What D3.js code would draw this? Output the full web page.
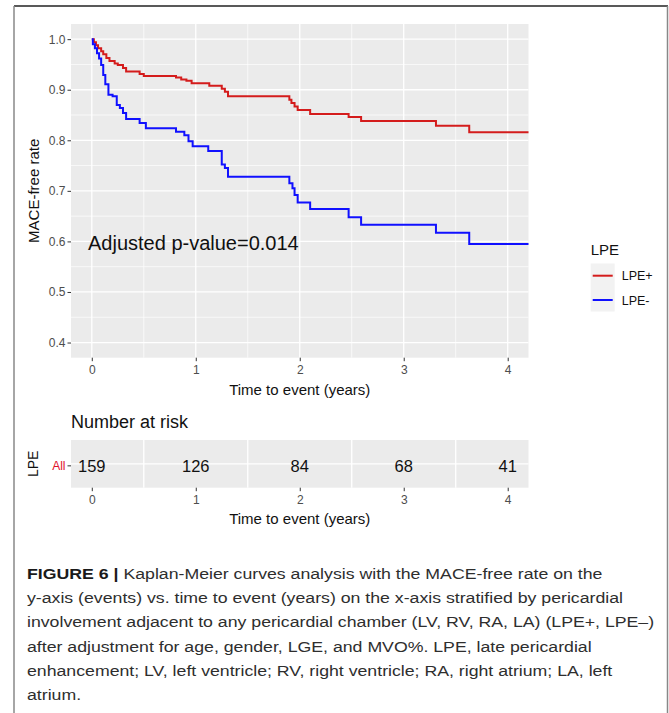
<!DOCTYPE html>
<html>
<head>
<meta charset="utf-8">
<script src="https://cdn.jsdelivr.net/npm/d3@7"></script>
<style>
  body { margin: 0; background: #fff; }
  svg { display: block; font-family: "Liberation Sans", Arial, sans-serif; }
</style>
</head>
<body>
<svg id="chart" width="669" height="713"></svg>
<script>
// Kaplan-Meier step data (time in years, MACE-free rate)
const lpePlusTimes = [0, 0.02, 0.04, 0.06, 0.09, 0.11, 0.14, 0.17, 0.22, 0.25, 0.30, 0.33, 0.46, 0.50, 0.81, 0.86, 0.91, 0.96, 1.13, 1.25, 1.28, 1.31, 1.90, 1.92, 1.95, 1.98, 2.10, 2.47, 2.59, 3.31, 3.63, 4.2];
const lpePlusRates = [1.0, 0.994, 0.988, 0.982, 0.976, 0.970, 0.963, 0.957, 0.952, 0.949, 0.943, 0.936, 0.931, 0.927, 0.924, 0.920, 0.918, 0.913, 0.908, 0.902, 0.896, 0.887, 0.880, 0.874, 0.867, 0.860, 0.852, 0.846, 0.838, 0.829, 0.816, 0.816];

const lpeMinusTimes = [0, 0.01, 0.03, 0.05, 0.07, 0.09, 0.11, 0.13, 0.16, 0.20, 0.24, 0.27, 0.30, 0.33, 0.46, 0.52, 0.81, 0.89, 0.93, 0.97, 1.12, 1.25, 1.28, 1.31, 1.90, 1.93, 1.95, 1.98, 2.10, 2.47, 2.59, 3.31, 3.63, 4.2];
const lpeMinusRates = [1.0, 0.990, 0.982, 0.972, 0.962, 0.949, 0.929, 0.911, 0.890, 0.887, 0.870, 0.864, 0.854, 0.842, 0.834, 0.824, 0.817, 0.810, 0.798, 0.788, 0.779, 0.752, 0.745, 0.728, 0.715, 0.705, 0.692, 0.677, 0.664, 0.648, 0.633, 0.617, 0.595, 0.595];

const seriesNames = ["LPE+", "LPE-"];
const seriesColors = ["#d41c1c", "#1010ff"];

const xTicks = [0, 1, 2, 3, 4];
const xMinor = [0.5, 1.5, 2.5, 3.5];
const yTicks = [0.4, 0.5, 0.6, 0.7, 0.8, 0.9, 1.0];
const yMinor = [0.45, 0.55, 0.65, 0.75, 0.85, 0.95];

const riskTimes = [0, 1, 2, 3, 4];
const riskCounts = [159, 126, 84, 68, 41];
const riskStrata = ["All"];

const captionLines = [
    "Kaplan-Meier curves analysis with the MACE-free rate on the",
    "y-axis (events) vs. time to event (years) on the x-axis stratified by pericardial",
    "involvement adjacent to any pericardial chamber (LV, RV, RA, LA) (LPE+, LPE\u2013)",
    "after adjustment for age, gender, LGE, and MVO%. LPE, late pericardial",
    "enhancement; LV, left ventricle; RV, right ventricle; RA, right atrium; LA, left",
    "atrium."
];

const svg = d3.select("#chart");

// frame around the figure
svg.append("line").attr("x1", 14).attr("x2", 668).attr("y1", 6).attr("y2", 6)
    .attr("stroke", "#222").attr("stroke-width", 1.5);
svg.append("line").attr("x1", 14).attr("x2", 14).attr("y1", 6).attr("y2", 713)
    .attr("stroke", "#888").attr("stroke-width", 1.5);
svg.append("line").attr("x1", 667.5).attr("x2", 667.5).attr("y1", 6).attr("y2", 713)
    .attr("stroke", "#888").attr("stroke-width", 1.5);

const x = d3.scaleLinear().domain([-0.2, 4.2]).range([71, 528.5]);
const y = d3.scaleLinear().domain([0.37, 1.03]).range([357.7, 24]);

// ---- survival panel ----
const panel = svg.append("g");
panel.append("rect")
    .attr("x", x.range()[0]).attr("y", y.range()[1])
    .attr("width", x.range()[1] - x.range()[0])
    .attr("height", y.range()[0] - y.range()[1])
    .attr("fill", "#ebebeb");

panel.selectAll(".ymin").data(yMinor).enter().append("line")
    .attr("x1", x.range()[0]).attr("x2", x.range()[1])
    .attr("y1", d => y(d)).attr("y2", d => y(d))
    .attr("stroke", "#fff").attr("stroke-width", 0.7);
panel.selectAll(".xmin").data(xMinor).enter().append("line")
    .attr("y1", y.range()[0]).attr("y2", y.range()[1])
    .attr("x1", d => x(d)).attr("x2", d => x(d))
    .attr("stroke", "#fff").attr("stroke-width", 0.7);
panel.selectAll(".ymaj").data(yTicks).enter().append("line")
    .attr("x1", x.range()[0]).attr("x2", x.range()[1])
    .attr("y1", d => y(d)).attr("y2", d => y(d))
    .attr("stroke", "#fff").attr("stroke-width", 1.3);
panel.selectAll(".xmaj").data(xTicks).enter().append("line")
    .attr("y1", y.range()[0]).attr("y2", y.range()[1])
    .attr("x1", d => x(d)).attr("x2", d => x(d))
    .attr("stroke", "#fff").attr("stroke-width", 1.3);

// axes
const yAxis = svg.append("g")
    .attr("transform", `translate(${x.range()[0]},0)`)
    .call(d3.axisLeft(y).tickValues(yTicks).tickFormat(d3.format(".1f")).tickSize(3.5).tickPadding(2));
const xAxis = svg.append("g")
    .attr("transform", `translate(0,${y.range()[0]})`)
    .call(d3.axisBottom(x).tickValues(xTicks).tickFormat(d3.format("d")).tickSize(3.5).tickPadding(4));
[yAxis, xAxis].forEach(a => {
    a.select(".domain").remove();
    a.selectAll(".tick line").attr("stroke", "#333");
    a.selectAll(".tick text").attr("fill", "#4d4d4d").style("font-size", "12px")
        .style("font-family", "'Liberation Sans', Arial, sans-serif");
});

// curves
const step = d3.line().x(d => x(d[0])).y(d => y(d[1])).curve(d3.curveStepAfter);
const curves = [
    d3.zip(lpePlusTimes, lpePlusRates),
    d3.zip(lpeMinusTimes, lpeMinusRates)
];
curves.forEach((pts, i) => {
    svg.append("path").datum(pts)
        .attr("d", step)
        .attr("fill", "none")
        .attr("stroke", seriesColors[i])
        .attr("stroke-width", 2);
});

svg.append("text").attr("x", 88).attr("y", 250)
    .style("font-size", "20px").attr("fill", "#111")
    .text("Adjusted p-value=0.014");

// axis titles
svg.append("text").attr("x", (x.range()[0] + x.range()[1]) / 2).attr("y", 395)
    .attr("text-anchor", "middle").style("font-size", "15px").attr("fill", "#111")
    .text("Time to event (years)");
svg.append("text")
    .attr("transform", `translate(38.5,${(y.range()[0] + y.range()[1]) / 2}) rotate(-90)`)
    .attr("text-anchor", "middle").style("font-size", "15px").attr("fill", "#111")
    .text("MACE-free rate");

// legend
const legend = svg.append("g");
legend.append("text").attr("x", 590.7).attr("y", 255)
    .style("font-size", "15px").attr("fill", "#111").text("LPE");
legend.append("rect").attr("x", 590.7).attr("y", 263.5).attr("width", 24).attr("height", 48)
    .attr("fill", "#f2f2f2");
seriesNames.forEach((name, i) => {
    const cy = 275.7 + i * 24.3;
    legend.append("line").attr("x1", 592.7).attr("x2", 612.7).attr("y1", cy).attr("y2", cy)
        .attr("stroke", seriesColors[i]).attr("stroke-width", 2);
    legend.append("text").attr("x", 621.7).attr("y", cy).attr("dy", "0.36em")
        .style("font-size", "12.5px").attr("fill", "#111").text(name);
});

// ---- risk table ----
const ry = d3.scaleBand().domain(riskStrata).range([440, 487.7]);
const risk = svg.append("g");
risk.append("text").attr("x", 71).attr("y", 428.3)
    .style("font-size", "18px").attr("fill", "#111").text("Number at risk");
risk.append("rect")
    .attr("x", x.range()[0]).attr("y", ry.range()[0])
    .attr("width", x.range()[1] - x.range()[0])
    .attr("height", ry.range()[1] - ry.range()[0])
    .attr("fill", "#ebebeb");
risk.selectAll(".rmin").data(xMinor).enter().append("line")
    .attr("x1", d => x(d)).attr("x2", d => x(d))
    .attr("y1", ry.range()[0]).attr("y2", ry.range()[1])
    .attr("stroke", "#fff").attr("stroke-width", 1.3);
risk.selectAll(".rrow").data(riskStrata).enter().append("line")
    .attr("x1", x.range()[0]).attr("x2", x.range()[1])
    .attr("y1", d => ry(d) + ry.bandwidth() / 2).attr("y2", d => ry(d) + ry.bandwidth() / 2)
    .attr("stroke", "#fff").attr("stroke-width", 1.3);
risk.selectAll(".count").data(riskCounts).enter().append("text")
    .attr("x", (d, i) => x(riskTimes[i]))
    .attr("y", ry("All") + ry.bandwidth() / 2 + 2).attr("dy", "0.36em")
    .attr("text-anchor", "middle").style("font-size", "16.5px").attr("fill", "#111")
    .text(d => d);

const rAxisX = svg.append("g")
    .attr("transform", `translate(0,${ry.range()[1]})`)
    .call(d3.axisBottom(x).tickValues(xTicks).tickFormat(d3.format("d")).tickSize(3.5).tickPadding(4));
const rAxisY = svg.append("g")
    .attr("transform", `translate(${x.range()[0]},2)`)
    .call(d3.axisLeft(ry).tickSize(3.5).tickPadding(2));
[rAxisX, rAxisY].forEach(a => {
    a.select(".domain").remove();
    a.selectAll(".tick line").attr("stroke", "#333");
    a.selectAll(".tick text").attr("fill", "#4d4d4d").style("font-size", "12px")
        .style("font-family", "'Liberation Sans', Arial, sans-serif");
});
rAxisY.selectAll(".tick text").attr("fill", "#e0102a");

risk.append("text").attr("x", (x.range()[0] + x.range()[1]) / 2).attr("y", 524)
    .attr("text-anchor", "middle").style("font-size", "15px").attr("fill", "#111")
    .text("Time to event (years)");
risk.append("text")
    .attr("transform", `translate(38,${ry("All") + ry.bandwidth() / 2}) rotate(-90)`)
    .attr("text-anchor", "middle").style("font-size", "14px").attr("fill", "#111")
    .text("LPE");

// ---- caption ----
const cap = svg.append("g").attr("fill", "#2e2e2e").style("font-size", "15.5px");
captionLines.forEach((line, i) => {
    const t = cap.append("text").attr("x", 27).attr("y", 579 + i * 24.2);
    if (i === 0) {
        t.append("tspan").style("font-weight", "bold").attr("fill", "#1a1a1a").text("FIGURE 6 | ");
    }
    t.append("tspan").text(line);
});
// fit the widest caption line to the printed width
const widest = cap.selectAll("text").nodes()[2].getComputedTextLength();
const sx = 628 / widest;
cap.attr("transform", `translate(${27 - 27 * sx},0) scale(${sx},1)`);
</script>
</body>
</html>
